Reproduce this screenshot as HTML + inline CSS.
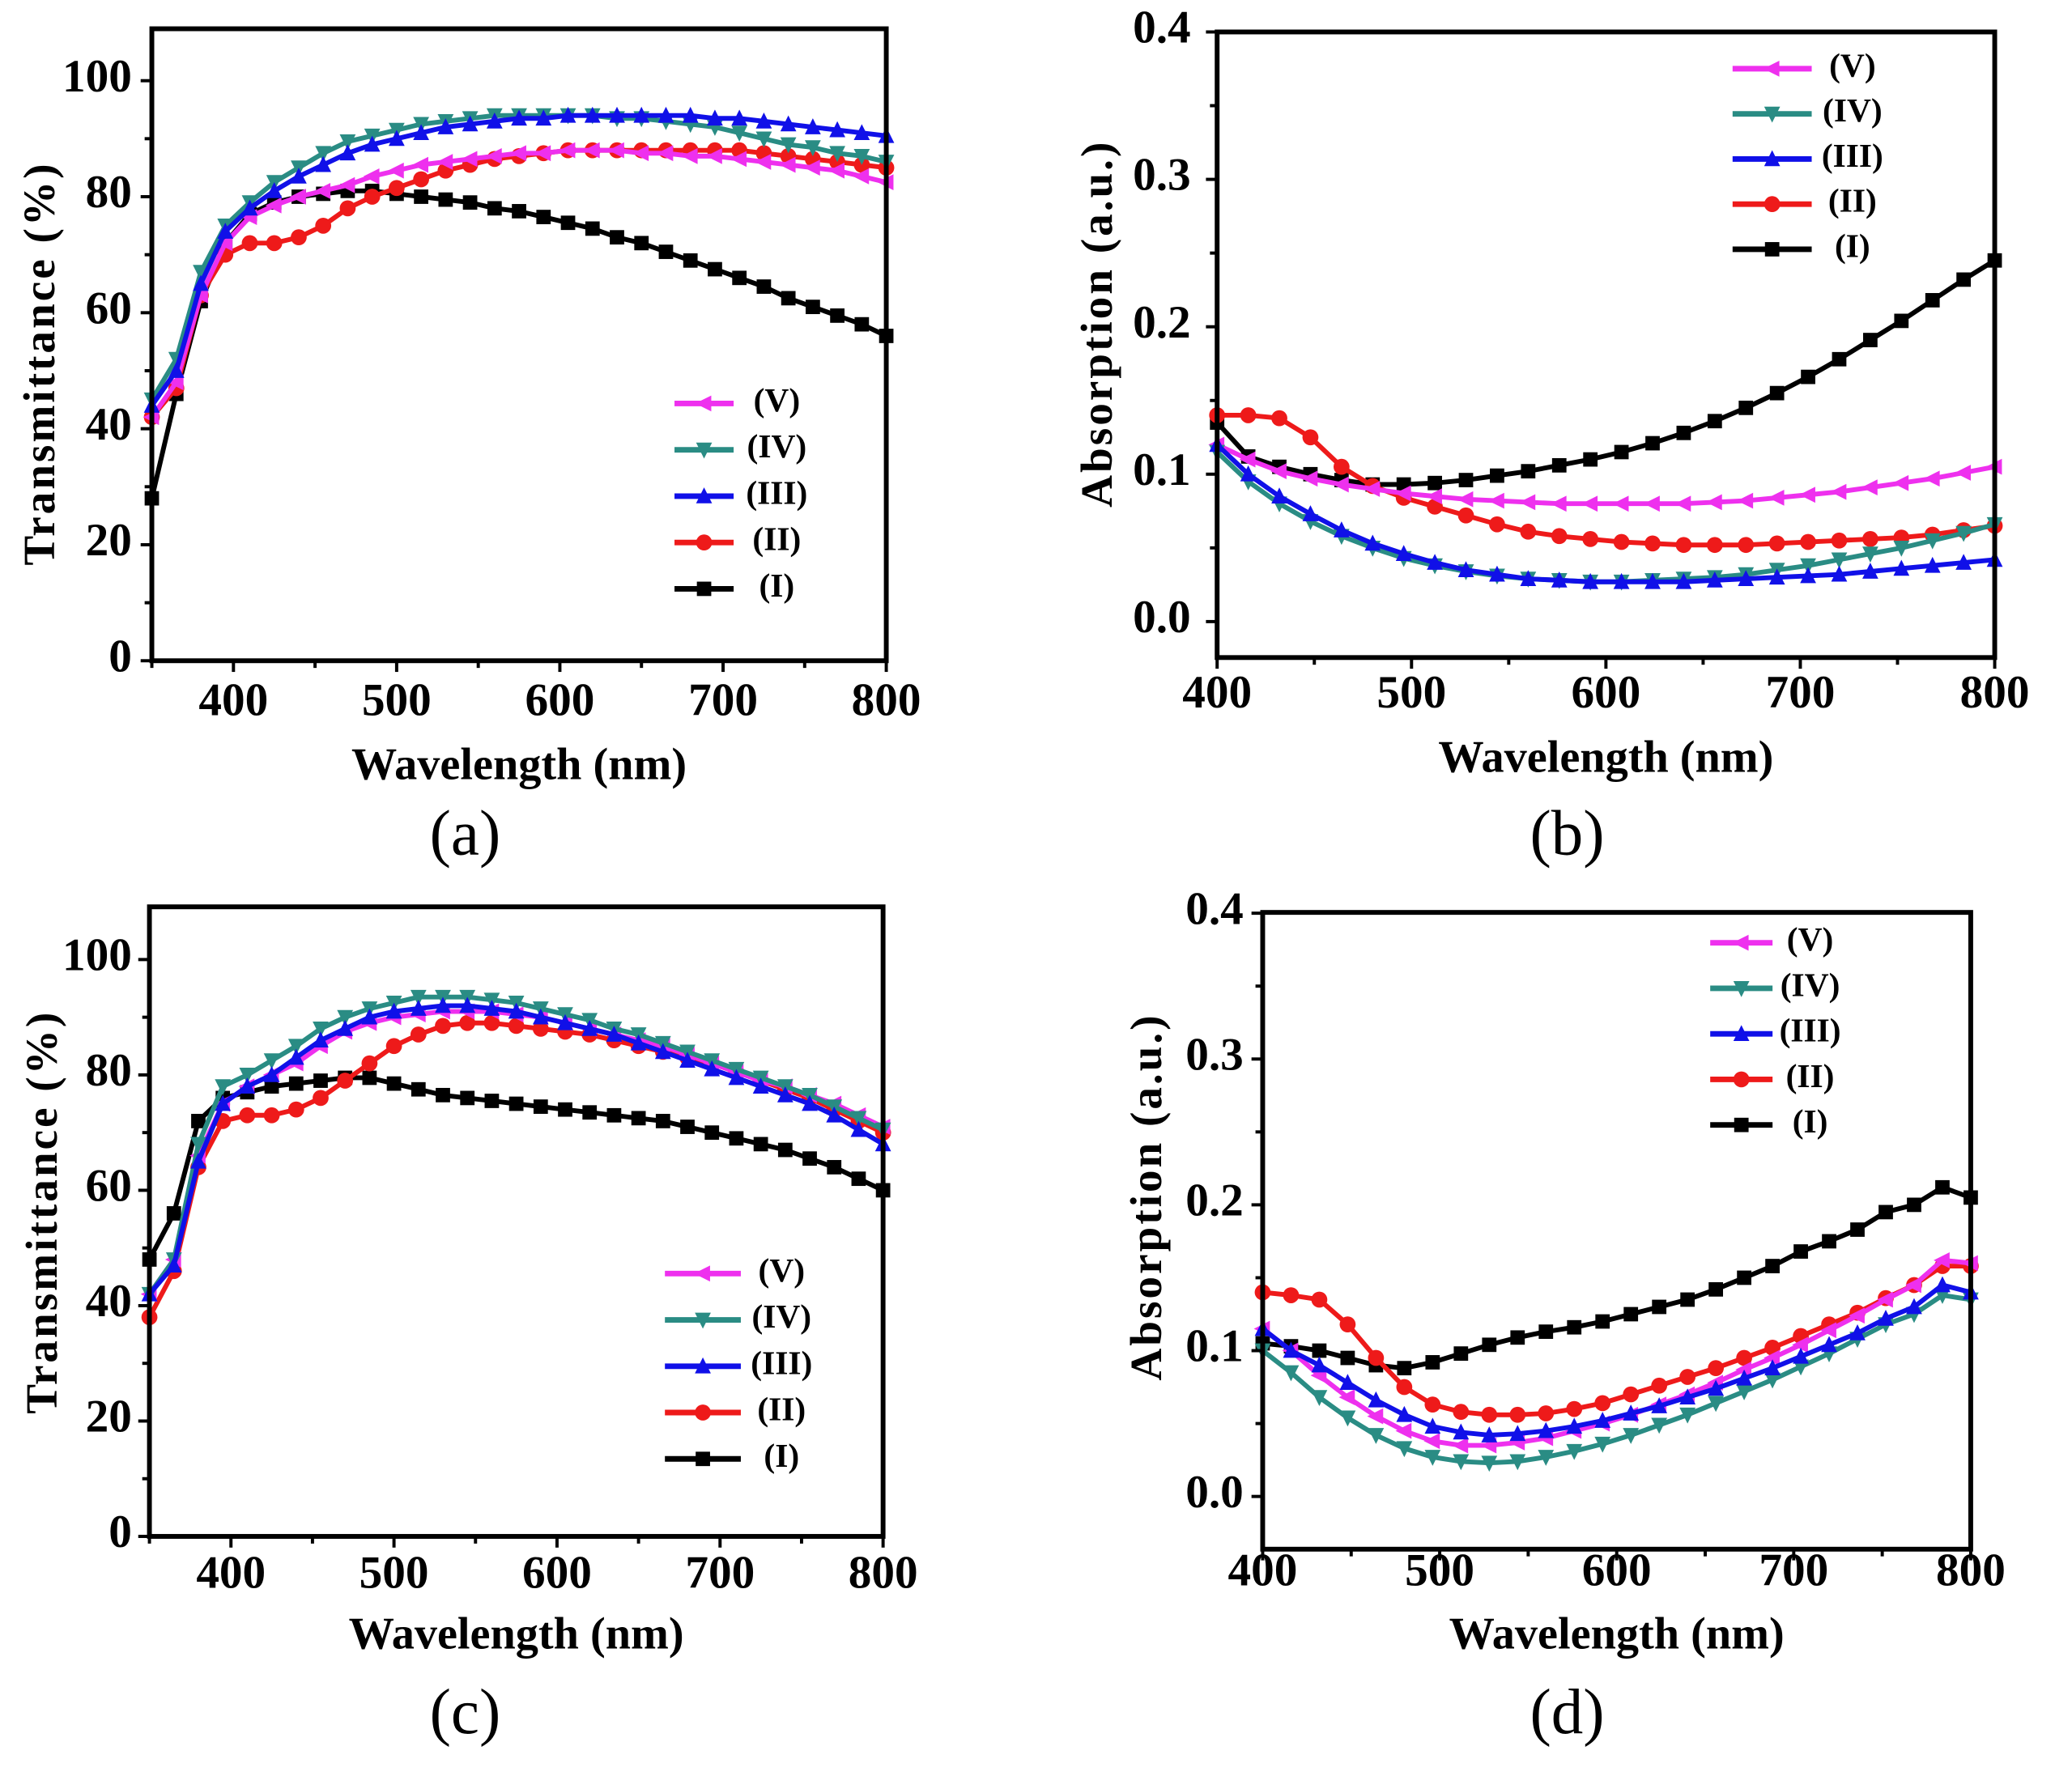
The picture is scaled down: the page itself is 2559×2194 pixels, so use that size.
<!DOCTYPE html>
<html><head><meta charset="utf-8"><style>
html,body{margin:0;padding:0;background:#fff;}
svg{display:block;}
text{font-family:"Liberation Serif",serif;}
</style></head><body>
<svg id="fig" width="2559" height="2194" viewBox="0 0 2559 2194"><g id="root" transform="scale(0.987)"></g></svg>
<script>
// ---- data ----
const wlA = [350,365,380,395,410,425,440,455,470,485,500,515,530,545,560,575,590,605,620,635,650,665,680,695,710,725,740,755,770,785,800];
const aI  = [28,46,62,72,77,79,80,80.5,81,81,80.5,80,79.5,79,78,77.5,76.5,75.5,74.5,73,72,70.5,69,67.5,66,64.5,62.5,61,59.5,58,56];
const aII = [42,47,63,70,72,72,73,75,78,80,81.5,83,84.5,85.5,86.5,87,87.5,88,88,88,88,88,88,88,88,87.5,87,86.5,86,85.5,85];
const aIII= [44,50,65,74,78,81,83.5,85.5,87.5,89,90,91,92,92.5,93,93.5,93.5,94,94,94,94,94,94,93.5,93.5,93,92.5,92,91.5,91,90.5];
const aIV = [45,52,67,75,79,82.5,85,87.5,89.5,90.5,91.5,92.5,93,93.5,94,94,94,94,94,93.5,93.5,93,92.5,92,91,90,89,88.5,87.5,87,86];
const aV  = [42,48,63,72,76.5,78.5,80,81,82,83.5,84.5,85.5,86,86.5,87,87.5,87.5,88,88,88,87.5,87.5,87,87,86.5,86,85.5,85,84.5,83.5,82.5];

const wlB = [400,416,432,448,464,480,496,512,528,544,560,576,592,608,624,640,656,672,688,704,720,736,752,768,784,800];
const bI  = [.135,.112,.105,.1,.096,.093,.093,.094,.096,.099,.102,.106,.11,.115,.121,.128,.136,.145,.155,.166,.178,.191,.204,.218,.232,.245];
const bII = [.14,.14,.138,.125,.105,.092,.084,.078,.072,.066,.061,.058,.056,.054,.053,.052,.052,.052,.053,.054,.055,.056,.057,.059,.062,.065];
const bIII= [.12,.1,.085,.073,.062,.053,.046,.04,.035,.032,.029,.028,.027,.027,.027,.027,.028,.029,.03,.031,.032,.034,.036,.038,.04,.042];
const bIV = [.115,.095,.08,.068,.058,.05,.043,.038,.034,.031,.029,.028,.027,.027,.028,.029,.03,.032,.035,.038,.042,.046,.05,.055,.06,.066];
const bV  = [.12,.11,.102,.097,.093,.09,.087,.085,.083,.082,.081,.08,.08,.08,.08,.08,.081,.082,.084,.086,.088,.091,.094,.097,.101,.105];

const wlC = wlA;
const cI  = [48,56,72,76,77,78,78.5,79,79.5,79.5,78.5,77.5,76.5,76,75.5,75,74.5,74,73.5,73,72.5,72,71,70,69,68,67,65.5,64,62,60];
const cII = [38,46,64,72,73,73,74,76,79,82,85,87,88.5,89,89,88.5,88,87.5,87,86,85,84,83,82,80.5,79,77.5,76,74,72,70];
const cIII= [42,47,65,75,78,80,83,86,88,90,91,91.5,92,92,91.5,91,90,89,88,87,85.5,84,82.5,81,79.5,78,76.5,75,73,70.5,68];
const cIV = [42,48,68,78,80,82.5,85,88,90,91.5,92.5,93.5,93.5,93.5,93,92.5,91.5,90.5,89.5,88,87,85.5,84,82.5,81,79.5,78,76.5,74.5,72.5,70.5];
const cV  = [42,48,66,75,78,80,82,85,87.5,89,90,90.5,91,91,91,90.5,90,89,88,87,86,85,83.5,82,80.5,79,78,76.5,75,73,71];

const wlD = wlB;
const dI  = [.105,.103,.1,.095,.09,.088,.092,.098,.104,.109,.113,.116,.12,.125,.13,.135,.142,.15,.158,.168,.175,.183,.195,.2,.212,.205];
const dII = [.14,.138,.135,.118,.095,.075,.063,.058,.056,.056,.057,.06,.064,.07,.076,.082,.088,.095,.102,.11,.118,.126,.136,.145,.158,.158];
const dIII= [.115,.1,.09,.078,.066,.056,.048,.044,.042,.043,.045,.048,.052,.057,.062,.068,.074,.081,.088,.096,.104,.112,.122,.13,.145,.14];
const dIV = [.1,.085,.068,.054,.042,.033,.027,.024,.023,.024,.027,.031,.036,.042,.049,.056,.064,.072,.08,.089,.098,.108,.118,.125,.138,.135];
const dV  = [.115,.1,.083,.068,.055,.045,.038,.035,.035,.037,.04,.045,.05,.056,.063,.07,.078,.087,.095,.104,.114,.124,.135,.145,.162,.16];

const seriesNames = ['(V)','(IV)','(III)','(II)','(I)'];
const xTicks = [400,500,600,700,800];
const tTicks = [0,20,40,60,80,100];
const aTicks = [0.0,0.1,0.2,0.3,0.4];

const COL = {'(I)':'#000000','(II)':'#ee1a1a','(III)':'#1010e8','(IV)':'#2a8c84','(V)':'#ee30ee'};
const SHAPE = {'(I)':'square','(II)':'circle','(III)':'tri-up','(IV)':'tri-down','(V)':'tri-left'};

const NS='http://www.w3.org/2000/svg';
const root=document.getElementById('root');
function mk(tag,attrs,parent){const e=document.createElementNS(NS,tag);for(const k in attrs)e.setAttribute(k,attrs[k]);(parent||root).appendChild(e);return e;}

function marker(g,shape,x,y,c){
  const s=9;let e;
  if(shape==='square')e=mk('rect',{x:x-s,y:y-s,width:2*s,height:2*s,fill:c},g);
  else if(shape==='circle')e=mk('circle',{cx:x,cy:y,r:s+1,fill:c},g);
  else if(shape==='tri-up')e=mk('polygon',{points:`${x},${y-s-2} ${x-s-1},${y+s} ${x+s+1},${y+s}`,fill:c},g);
  else if(shape==='tri-down')e=mk('polygon',{points:`${x},${y+s+2} ${x-s-1},${y-s} ${x+s+1},${y-s}`,fill:c},g);
  else e=mk('polygon',{points:`${x-s-2},${y} ${x+s},${y-s-1} ${x+s},${y+s+1}`,fill:c},g);
  return e;
}

function panel(p){
  const g=mk('g',{});
  
  
  const X=v=>p.L+(v-p.x0)/(p.x1-p.x0)*(p.R-p.L);
  const Y=v=>p.yA+(v-p.v0)/(p.v1-p.v0)*(p.yB-p.yA);
  p.series.forEach(([nm,vals])=>{
    const sg=mk('g',{},g);
    
    
    const pts=vals.map((v,i)=>X(p.wl[i]).toFixed(1)+','+Y(v).toFixed(1)).join(' ');
    mk('polyline',{points:pts,fill:'none',stroke:COL[nm],'stroke-width':6,'stroke-linejoin':'round'},sg);
    vals.forEach((v,i)=>{const m=marker(sg,SHAPE[nm],X(p.wl[i]),Y(v),COL[nm]);
      
      });
  });
  const f=mk('rect',{x:p.L,y:p.T,width:p.R-p.L,height:p.B-p.T,fill:'none',stroke:'#000','stroke-width':6},g);
  
  
  const xa=mk('g',{},g);
  
  
  for(let v=p.x0;v<=p.x1;v+=50){
    const major=v%100===0;
    mk('line',{x1:X(v),x2:X(v),y1:p.B,y2:p.B+(major?14:9),stroke:'#000','stroke-width':4},xa);
  }
  xTicks.forEach(v=>{const t=mk('text',{x:X(v),y:p.xtY,'text-anchor':'middle','font-size':58,'font-weight':'bold','dominant-baseline':'middle'},xa);t.textContent=v;});
  const xt=mk('text',{x:(p.L+p.R)/2,y:p.xtitleY,'text-anchor':'middle','font-size':57,'font-weight':'bold','dominant-baseline':'middle'},g);
  xt.textContent='Wavelength (nm)';
  
  
  const ya=mk('g',{},g);
  
  
  const step=(p.yt[1]-p.yt[0])/2;
  for(let v=p.yt[0];v<=p.yt[p.yt.length-1]+1e-9;v+=step){
    const major=Math.abs(Math.round(v/(2*step))*(2*step)-v)<1e-9;
    mk('line',{x1:p.L,x2:p.L-(major?14:9),y1:Y(v),y2:Y(v),stroke:'#000','stroke-width':4},ya);
  }
  p.yt.forEach(v=>{const t=mk('text',{x:p.ytX,y:Y(v),'text-anchor':'end','font-size':58,'font-weight':'bold','dominant-baseline':'middle'},ya);t.textContent=p.fmt(v);});
  const yt=mk('text',{x:p.ytitleX,y:p.ytitleY,'text-anchor':'middle','font-size':56,'font-weight':'bold','letter-spacing':3,'dominant-baseline':'middle',transform:`rotate(-90 ${p.ytitleX} ${p.ytitleY})`},g);
  yt.textContent=p.ytitle;
  
  
  const lg=mk('g',{},g);
  
  
  seriesNames.forEach((nm,i)=>{
    const y=p.legY+i*p.legDy;
    const e=mk('g',{},lg);
    
    
    mk('line',{x1:p.legX1,x2:p.legX2,y1:y,y2:y,stroke:COL[nm],'stroke-width':7},e);
    marker(e,SHAPE[nm],(p.legX1+p.legX2)/2,y,COL[nm]);
    const t=mk('text',{x:p.legT,y:y,'font-size':42,'font-weight':'bold','dominant-baseline':'middle','text-anchor':'middle'},e);
    t.textContent=nm;
  });
  const pl=mk('text',{x:p.labX,y:p.labY,'text-anchor':'middle','font-size':80,'dominant-baseline':'middle'},g);
  pl.textContent=p.label;
  
  
}

const ser=(I,II,III,IV,V)=>[['(I)',I],['(II)',II],['(V)',V],['(IV)',IV],['(III)',III]];
const fT=v=>String(v), fA=v=>v.toFixed(1);

panel({name:'panel-a',wl:wlA,series:ser(aI,aII,aIII,aIV,aV),L:190,R:1109,T:36,B:827,x0:350,x1:800,v0:0,v1:100,yA:827,yB:101,
  yt:tTicks,fmt:fT,ytX:165,xtY:882,xtitleY:962,ytitleX:55,ytitleY:455,ytitle:'Transmittance (%)',
  legX1:844,legX2:918,legT:972,legY:505,legDy:58,label:'(a)',labX:582,labY:1051});
panel({name:'panel-b',wl:wlB,series:ser(bI,bII,bIII,bIV,bV),L:1523,R:2496,T:40,B:823,x0:400,x1:800,v0:0,v1:0.4,yA:778,yB:40,
  yt:aTicks,fmt:fA,ytX:1490,xtY:872,xtitleY:953,ytitleX:1378,ytitleY:405,ytitle:'Absorption (a.u.)',
  legX1:2168,legX2:2267,legT:2318,legY:86,legDy:56.5,label:'(b)',labX:1961,labY:1051});
panel({name:'panel-c',wl:wlC,series:ser(cI,cII,cIII,cIV,cV),L:187,R:1105,T:1135,B:1923,x0:350,x1:800,v0:0,v1:100,yA:1923,yB:1201,
  yt:tTicks,fmt:fT,ytX:165,xtY:1974,xtitleY:2050,ytitleX:58,ytitleY:1517,ytitle:'Transmittance (%)',
  legX1:832,legX2:927,legT:978,legY:1594,legDy:58,label:'(c)',labX:582,labY:2151});
panel({name:'panel-d',wl:wlD,series:ser(dI,dII,dIII,dIV,dV),L:1580,R:2466,T:1142,B:1939,x0:400,x1:800,v0:0,v1:0.4,yA:1873,yB:1143,
  yt:aTicks,fmt:fA,ytX:1556,xtY:1971,xtitleY:2050,ytitleX:1440,ytitleY:1498,ytitle:'Absorption (a.u.)',
  legX1:2140,legX2:2218,legT:2265,legY:1180,legDy:57,label:'(d)',labX:1961,labY:2151});
</script>
</body></html>
